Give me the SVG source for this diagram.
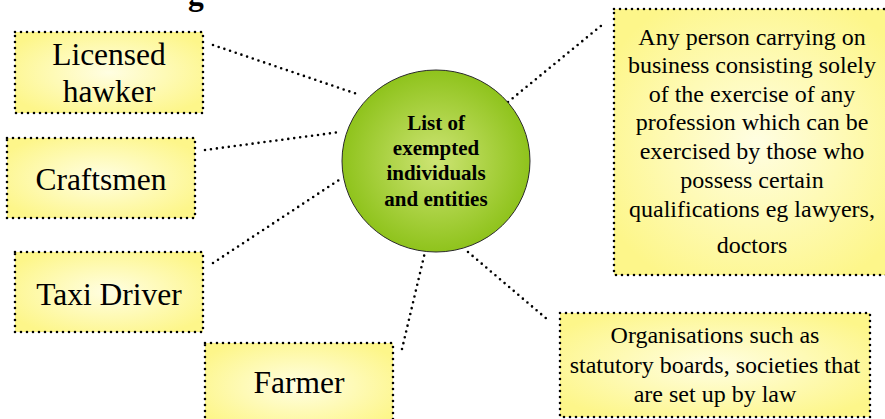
<svg xmlns="http://www.w3.org/2000/svg" width="885" height="419" viewBox="0 0 885 419">
<style>
.box{fill:url(#yg);stroke:#000;stroke-width:2.6;stroke-linecap:round;stroke-dasharray:0 6}
.big{font-family:"Liberation Serif","Times New Roman",serif;font-size:31.5px;fill:#000;text-anchor:middle}
.small{font-family:"Liberation Serif","Times New Roman",serif;font-size:24px;fill:#000;text-anchor:middle}
.hub{font-family:"Liberation Serif","Times New Roman",serif;font-size:21px;font-weight:bold;fill:#000;text-anchor:middle}
.con{fill:none;stroke:#000;stroke-width:2.6;stroke-linecap:round;stroke-dasharray:0 6}
</style>
<defs>
<radialGradient id="yg" cx="50%" cy="50%" r="60%">
<stop offset="0" stop-color="#fffee2"/>
<stop offset="1" stop-color="#fdf68a"/>
</radialGradient>
<radialGradient id="gg" cx="50%" cy="50%" r="50%">
<stop offset="0" stop-color="#cde474"/>
<stop offset="1" stop-color="#8fc31c"/>
</radialGradient>
</defs>
<rect width="885" height="419" fill="#fff"/>
<text x="188" y="5" font-family="Liberation Serif, serif" font-size="31.5" font-weight="bold">g</text>
<g id="connectors">
<line class="con" x1="213" y1="45" x2="360" y2="95"/>
<line class="con" x1="205" y1="150" x2="340" y2="132"/>
<line class="con" x1="213" y1="263" x2="342" y2="178"/>
<line class="con" x1="402" y1="349" x2="425" y2="252"/>
<line class="con" x1="468" y1="252" x2="548" y2="320"/>
<line class="con" x1="508" y1="102" x2="602" y2="25"/>
</g>
<g id="hub">
<ellipse cx="436" cy="161" rx="94" ry="91" fill="url(#gg)" stroke="#2a2a2a" stroke-width="1"/>
<text class="hub" x="436" y="130">List of</text>
<text class="hub" x="436" y="155">exempted</text>
<text class="hub" x="436" y="180">individuals</text>
<text class="hub" x="436" y="206">and entities</text>
</g>
<g id="licensed-hawker">
<rect class="box" x="15" y="32" width="188" height="81"/>
<text class="big" x="109" y="65">Licensed</text>
<text class="big" x="109" y="102">hawker</text>
</g>
<g id="craftsmen">
<rect class="box" x="7" y="138" width="188" height="80"/>
<text class="big" x="101" y="190">Craftsmen</text>
</g>
<g id="taxi-driver">
<rect class="box" x="15" y="252" width="188" height="80"/>
<text class="big" x="109" y="305">Taxi Driver</text>
</g>
<g id="farmer">
<rect class="box" x="205" y="343" width="188" height="86"/>
<text class="big" x="299" y="393">Farmer</text>
</g>
<g id="profession">
<rect class="box" x="614" y="9" width="285" height="266"/>
<text class="small" x="752" y="45">Any person carrying on</text>
<text class="small" x="752" y="73">business consisting solely</text>
<text class="small" x="752" y="102">of the exercise of any</text>
<text class="small" x="752" y="130">profession which can be</text>
<text class="small" x="752" y="159">exercised by those who</text>
<text class="small" x="752" y="188">possess certain</text>
<text class="small" x="752" y="217">qualifications eg lawyers,</text>
<text class="small" x="752" y="253">doctors</text>
</g>
<g id="organisations">
<rect class="box" x="560" y="313" width="310" height="104"/>
<text class="small" x="715" y="343">Organisations such as</text>
<text class="small" x="715" y="373">statutory boards, societies that</text>
<text class="small" x="715" y="402">are set up by law</text>
</g>
</svg>
